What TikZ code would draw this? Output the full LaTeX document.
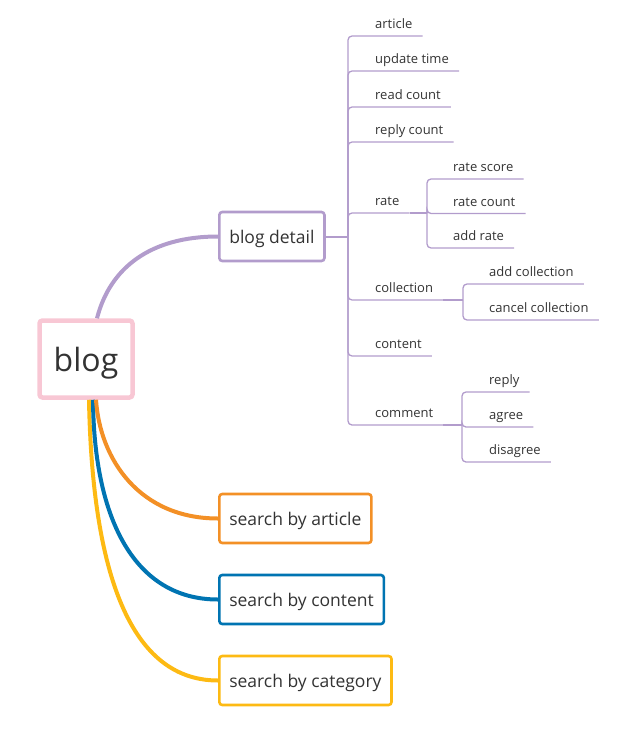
\documentclass[tikz,border=0pt]{standalone}
\usepackage{fontspec}
\setmainfont{Open Sans}
\usepackage{tikz}
\usetikzlibrary{calc}

\definecolor{pinkline}{RGB}{248,199,212}
\definecolor{purpleline}{RGB}{178,156,204}
\definecolor{orangeline}{RGB}{243,144,38}
\definecolor{blueline}{RGB}{0,116,178}
\definecolor{yellowline}{RGB}{253,186,19}
\definecolor{txt}{RGB}{51,51,51}

\tikzset{
  topic/.style={draw, fill=white, rounded corners=3pt, text=txt, line width=2.6pt,
    font=\fontsize{17.5}{20}\selectfont, minimum height=49pt, inner xsep=10pt,
    text height=13pt, text depth=0pt},
  leaf/.style={anchor=south west, inner xsep=10pt, inner ysep=4pt, text height=10pt,
    text depth=3pt, text=txt, font=\fontsize{13}{15}\selectfont},
  branch/.style={purpleline, line width=1.3pt, rounded corners=4pt},
  stem/.style={purpleline, line width=2pt},
  limb/.style={line width=4pt},
}

\begin{document}
\begin{tikzpicture}[x=1pt, y=-1pt]
        \useasboundingbox (0,0) rectangle (631,731);

        % central topic and main branches
        \node[topic, draw=pinkline, line width=4.5pt, font=\fontsize{32}{36}\selectfont,
              text height=24pt, text depth=0pt, minimum width=93pt, minimum height=77pt] (blog) at (86,359) {blog};
        \node[topic, draw=purpleline, anchor=west] (detail) at (218,236.5) {blog detail};
        \node[topic, draw=orangeline, anchor=west] (article) at (218,518.5) {search by article};
        \node[topic, draw=blueline, anchor=west] (content) at (218,599.5) {search by content};
        \node[topic, draw=yellowline, anchor=west] (category) at (218,680.5) {search by category};

        \draw[limb, purpleline] ([xshift=11pt]blog.north) .. controls (110,268) and (150,236.5) .. (detail.west);
        \draw[limb, yellowline] ([xshift=3pt]blog.south) .. controls (92,560) and (125,680.5) .. (category.west);
        \draw[limb, blueline] ([xshift=7pt]blog.south) .. controls (94,520) and (135,599.5) .. (content.west);
        \draw[limb, orangeline] ([xshift=10pt]blog.south) .. controls (100,460) and (140,518.5) .. (article.west);

        % blog detail leaves
        \coordinate (trunk) at (348,236.5);
        \draw[stem] (detail.east) -- (trunk);

        \node[leaf] (artleaf) at (365,36) {article};
        \node[leaf] (update) at (365,71) {update time};
        \node[leaf] (read) at (365,107) {read count};
        \node[leaf] (replies) at (365,142) {reply count};
        \node[leaf] (rate) at (365,213) {rate};
        \node[leaf] (collection) at (365,300) {collection};
        \node[leaf] (contleaf) at (365,356) {content};
        \node[leaf] (comment) at (365,425) {comment};

        \draw[branch] (trunk) |- (artleaf.south east);
        \draw[branch] (trunk) |- (update.south east);
        \draw[branch] (trunk) |- (read.south east);
        \draw[branch] (trunk) |- (replies.south east);
        \draw[branch] (trunk) |- (rate.south east);
        \draw[branch] (trunk) |- (collection.south east);
        \draw[branch] (trunk) |- (contleaf.south east);
        \draw[branch] (trunk) |- (comment.south east);

        % rate
        \coordinate (ratefork) at (427,213);
        \draw[stem] (rate.south east) -- (ratefork);
        \node[leaf] (score) at (443,179) {rate score};
        \node[leaf] (ratecount) at (443,213.5) {rate count};
        \node[leaf] (addrate) at (443,248) {add rate};
        \draw[branch] (ratefork) |- (score.south east);
        \draw[branch] (ratefork) |- (ratecount.south east);
        \draw[branch] (ratefork) |- (addrate.south east);

        % collection
        \coordinate (collfork) at (463,300);
        \draw[stem] (collection.south east) -- (collfork);
        \node[leaf] (addcoll) at (479,284) {add collection};
        \node[leaf] (cancelcoll) at (479,320) {cancel collection};
        \draw[branch] (collfork) |- (addcoll.south east);
        \draw[branch] (collfork) |- (cancelcoll.south east);

        % comment
        \coordinate (commfork) at (462,425);
        \draw[branch] (comment.south east) -- (commfork);
        \node[leaf] (reply) at (479,392) {reply};
        \node[leaf] (agree) at (479,427) {agree};
        \node[leaf] (disagree) at (479,462) {disagree};
        \draw[branch] (commfork) |- (reply.south east);
        \draw[branch] (commfork) |- (agree.south east);
        \draw[branch] (commfork) |- (disagree.south east);

    \end{tikzpicture}
\end{document}
